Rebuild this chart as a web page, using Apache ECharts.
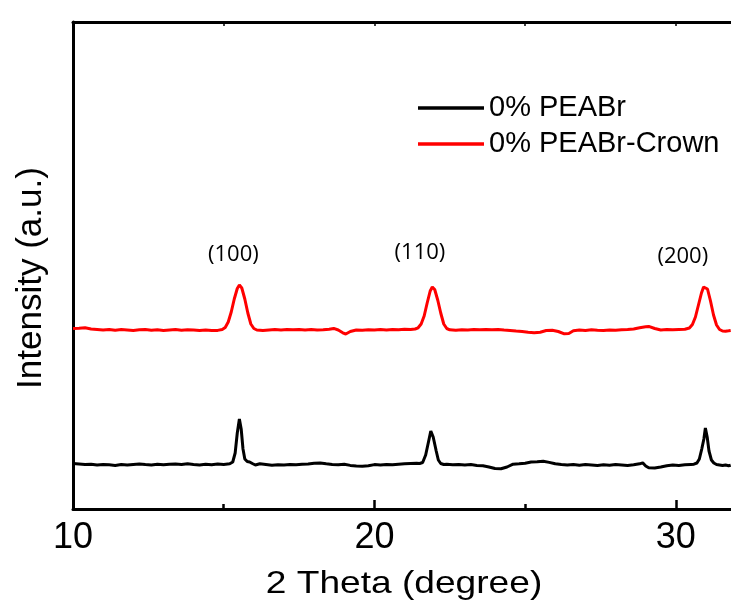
<!DOCTYPE html>
<html>
<head>
<meta charset="utf-8">
<script src="https://cdn.jsdelivr.net/npm/echarts@6/dist/echarts.min.js"></script>
<style>
html,body{margin:0;padding:0;background:#fff;}
#chart{width:731px;height:608px;}
</style>
</head>
<body>
<div id="chart"></div>
<script>
// ---- data (2θ in degrees, intensity in arbitrary counts) ----
const seriesNames = ['0% PEABr', '0% PEABr-Crown'];

const blackTheta = [10.0,10.2,10.4,10.6,10.8,11.0,11.2,11.4,11.6,11.8,12.0,12.2,12.4,12.6,12.8,13.0,13.2,13.4,13.6,13.8,14.0,14.2,14.4,14.6,14.8,15.0,15.2,15.3,15.38,15.45,15.52,15.58,15.64,15.7,15.78,15.86,15.95,16.05,16.2,16.4,16.6,16.8,17.0,17.2,17.4,17.6,17.8,18.0,18.2,18.4,18.6,18.8,19.0,19.2,19.4,19.6,19.8,20.0,20.2,20.4,20.6,20.8,21.0,21.2,21.4,21.5,21.6,21.7,21.8,21.87,21.95,22.05,22.12,22.2,22.3,22.4,22.6,22.8,23.0,23.2,23.4,23.6,23.8,24.0,24.2,24.4,24.6,24.8,25.0,25.2,25.4,25.6,25.8,26.0,26.2,26.4,26.6,26.8,27.0,27.2,27.4,27.6,27.8,28.0,28.2,28.4,28.6,28.8,28.9,29.0,29.1,29.3,29.5,29.7,29.9,30.1,30.3,30.5,30.6,30.7,30.78,30.86,30.93,30.98,31.04,31.1,31.18,31.26,31.35,31.45,31.55,31.65,31.75,31.82];
const blackCounts = [455,450,445,448,440,446,442,436,445,440,446,450,444,440,447,443,448,450,445,452,446,441,447,443,449,446,452,470,560,760,900,800,600,500,475,470,455,440,452,445,438,442,440,445,442,447,450,458,460,452,446,442,448,436,430,428,432,444,440,446,442,448,452,455,458,455,465,540,680,780,720,580,490,455,445,448,442,446,440,444,436,432,420,405,402,420,448,452,458,470,472,478,466,452,445,440,446,438,444,440,436,442,438,444,440,436,442,452,462,430,412,410,420,432,440,436,442,446,448,460,500,600,700,810,720,580,490,460,445,440,435,440,432,438];

const redTheta = [10.0,10.2,10.4,10.6,10.8,11.0,11.2,11.4,11.6,11.8,12.0,12.2,12.4,12.6,12.8,13.0,13.2,13.4,13.6,13.8,14.0,14.2,14.4,14.6,14.8,14.95,15.05,15.15,15.25,15.35,15.45,15.52,15.6,15.7,15.8,15.9,16.0,16.1,16.3,16.5,16.7,16.9,17.1,17.3,17.5,17.7,17.9,18.1,18.3,18.5,18.65,18.8,18.95,19.05,19.2,19.4,19.6,19.8,20.0,20.2,20.4,20.6,20.8,21.0,21.2,21.35,21.45,21.55,21.65,21.75,21.85,21.92,22.0,22.1,22.2,22.3,22.4,22.5,22.7,22.9,23.1,23.3,23.5,23.7,23.9,24.1,24.3,24.5,24.7,24.9,25.1,25.3,25.5,25.7,25.9,26.1,26.3,26.45,26.6,26.8,27.0,27.2,27.4,27.6,27.8,28.0,28.2,28.4,28.6,28.8,29.0,29.1,29.3,29.5,29.7,29.9,30.1,30.3,30.45,30.55,30.65,30.75,30.85,30.92,30.98,31.05,31.15,31.25,31.35,31.45,31.55,31.65,31.75,31.82];
const redCounts = [1805,1808,1812,1800,1795,1790,1796,1788,1794,1790,1786,1792,1795,1788,1792,1786,1790,1794,1788,1792,1790,1786,1790,1784,1786,1795,1815,1870,1970,2100,2205,2240,2210,2100,1960,1850,1805,1790,1785,1790,1794,1790,1795,1792,1796,1790,1794,1790,1792,1798,1806,1790,1762,1750,1775,1790,1788,1792,1790,1794,1790,1796,1792,1798,1795,1800,1812,1850,1930,2060,2180,2220,2195,2090,1960,1850,1805,1792,1788,1792,1790,1795,1792,1796,1792,1795,1790,1786,1780,1775,1768,1762,1768,1785,1788,1775,1752,1755,1782,1790,1786,1792,1788,1785,1790,1788,1792,1795,1800,1812,1822,1826,1805,1790,1795,1792,1796,1798,1810,1845,1920,2040,2160,2220,2235,2200,2080,1940,1840,1795,1780,1778,1782,1785];

const peakLabels = ['(100)', '(110)', '(200)'];
const peakLabelTheta = [15.32, 21.51, 30.23];
const peakLabelCounts = [2540, 2560, 2520];

const xMin = 10, xMax = 31.83;
const xMajorTicks = [10, 20, 30];
const xMinorTicks = [15, 25];
const xTopTicks = [15, 20, 25, 30];
const xTitle = '2 Theta (degree)';
const yTitle = 'Intensity (a.u.)';

// ---- build ----
const zip = (a, b) => a.map((v, i) => [v, b[i]]);
const FONT = '"Liberation Sans", Arial, sans-serif';
const BLACK = '#000';

const chart = echarts.init(document.getElementById('chart'), null, {renderer: 'canvas'});
chart.setOption({
  animation: false,
  backgroundColor: '#ffffff',
  grid: {left: 73, top: 22, right: 0, bottom: 99, containLabel: false},
  legend: {
    data: seriesNames,
    orient: 'vertical',
    left: 413, top: 87,
    itemWidth: 66, itemHeight: 14, itemGap: 4,
    textStyle: {fontFamily: FONT, fontSize: 29, color: BLACK, lineHeight: 32},
    icon: 'path://M0,5.5 L66,5.5 L66,9 L0,9 Z'
  },
  xAxis: [{
    type: 'value', position: 'bottom', min: xMin, max: xMax,
    axisLine: {show: true, onZero: false, lineStyle: {color: BLACK, width: 3}},
    axisTick: {show: true, inside: true, length: 9, customValues: xMajorTicks, lineStyle: {color: BLACK, width: 2.5}},
    axisLabel: {show: true, margin: 11, color: BLACK, fontFamily: FONT, fontSize: 36, customValues: xMajorTicks},
    splitLine: {show: false}
  }, {
    type: 'value', position: 'bottom', min: xMin, max: xMax,
    axisLine: {show: false},
    axisTick: {show: true, inside: true, length: 5, customValues: xMinorTicks, lineStyle: {color: BLACK, width: 2.5}},
    axisLabel: {show: false}, splitLine: {show: false}
  }, {
    type: 'value', position: 'top', min: xMin, max: xMax,
    axisLine: {show: true, onZero: false, lineStyle: {color: BLACK, width: 3}},
    axisTick: {show: true, inside: true, length: 4, customValues: xTopTicks, lineStyle: {color: BLACK, width: 1.5}},
    axisLabel: {show: false}, splitLine: {show: false}
  }],
  yAxis: {
    type: 'value', min: 0, max: 4870,
    axisLine: {show: true, onZero: false, lineStyle: {color: BLACK, width: 3}},
    axisTick: {show: false}, axisLabel: {show: false}, splitLine: {show: false}
  },
  graphic: [
    {type: 'text', x: 404, y: 584, scaleX: 1.16, scaleY: 1,
     style: {text: xTitle, fill: BLACK, font: '32px ' + FONT, textAlign: 'center', textVerticalAlign: 'middle'}},
    {type: 'text', x: 31, y: 278, rotation: Math.PI / 2,
     style: {text: yTitle, fill: BLACK, font: '35px ' + FONT, textAlign: 'center', textVerticalAlign: 'middle'}}
  ],
  series: [
    {name: seriesNames[0], type: 'line', data: zip(blackTheta, blackCounts), showSymbol: false, symbol: 'none',
     lineStyle: {color: BLACK, width: 3}, itemStyle: {color: BLACK}},
    {name: seriesNames[1], type: 'line', data: zip(redTheta, redCounts), showSymbol: false, symbol: 'none',
     lineStyle: {color: '#ff0000', width: 3}, itemStyle: {color: '#ff0000'}},
    {name: 'labels', type: 'scatter', symbolSize: 2, itemStyle: {color: 'rgba(0,0,0,0)', opacity: 1},
     data: peakLabels.map((t, i) => ({value: [peakLabelTheta[i], peakLabelCounts[i]], name: t})),
     label: {show: true, position: 'inside', formatter: p => p.name, color: BLACK, opacity: 1,
       fontFamily: '"Open Sans", "Noto Sans", sans-serif', fontSize: 22},
     labelLayout: {hideOverlap: false},
     emphasis: {disabled: true}, silent: true}
  ]
});
</script>
</body>
</html>
